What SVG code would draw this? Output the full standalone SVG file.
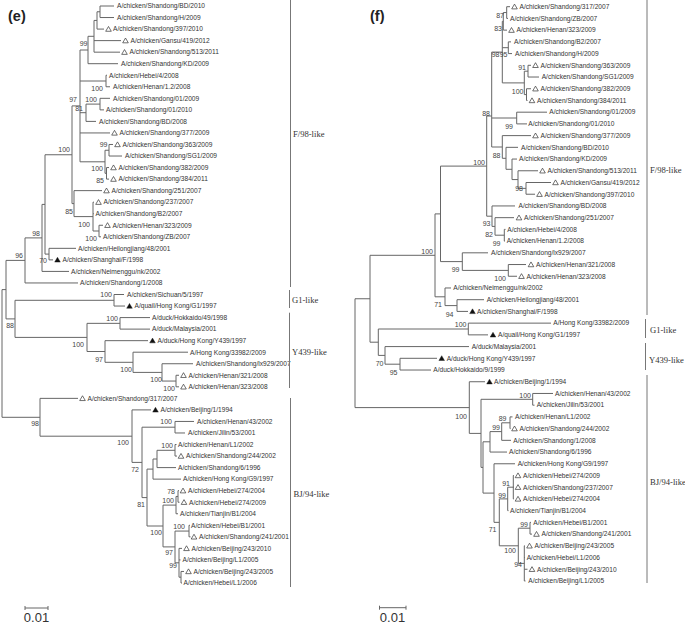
<svg xmlns="http://www.w3.org/2000/svg" width="685" height="623" viewBox="0 0 685 623">
<defs>
<style>
.br{stroke:#666;stroke-width:1;fill:none}
.bar{stroke:#777;stroke-width:1;fill:none}
.tx{font-family:"Liberation Sans",Arial,sans-serif;font-size:6.6px;fill:#333}
.bs{font-family:"Liberation Sans",Arial,sans-serif;font-size:7px;fill:#444;text-anchor:end}
.cl{font-family:"Liberation Serif","Times New Roman",serif;font-size:8.6px;fill:#333}
.pl{font-family:"Liberation Sans",Arial,sans-serif;font-size:14.5px;font-weight:bold;fill:#222}
.sc{font-family:"Liberation Sans",Arial,sans-serif;font-size:13px;fill:#333;text-anchor:middle}
</style>
<path id="ot" d="M0,-2.6 L2.8,2.2 L-2.8,2.2 Z" fill="none" stroke="#333" stroke-width="0.7"/>
<path id="ft" d="M0,-2.6 L2.8,2.2 L-2.8,2.2 Z" fill="#111" stroke="#111" stroke-width="0.4"/>
</defs>
<rect width="685" height="623" fill="#fff"/>

<!-- ================= TREE (e) ================= -->
<text id="label-e" class="pl" x="8" y="21">(e)</text>
<g id="e-connectors">
<path class="br" d="M100 6V17.54 M97 11.77V29.08 M94 20.43V52.16 M88 36.3V63.7 M106 75.24V86.78 M100 98.32V109.86 M86 104.1V121.4 M109 144.48V156.02 M106.5 167.56V179.1 M105 150.25V173.3 M80 50V161.8 M99 225.26V236.8 M93 202.18V231 M74 190.64V216.6 M72 105.9V203.6 M49 248.34V259.88 M45 154.75V254.1 M42 204.4V271.42 M25 237.9V282.96 M114 294.5V306.04 M120 317.58V329.12 M176 375.28V386.82 M162 363.74V381.05 M133 352.2V372.4 M105 340.66V362.3 M87 323.35V351.5 M15 300.3V337.4 M6 260.4V318.9 M175 421.44V432.98 M175 444.52V456.06 M157 450.3V467.6 M153 459V479.14 M178 490.68V502.22 M176 496.45V513.76 M189 525.3V536.84 M181 571.46V583 M179 548.38V577.2 M175 531.07V562.8 M163 505.1V546.9 M147 469.1V526 M142 427.2V497.6 M132 409.9V462.4 M40 398.36V436.2 M2 289.6V417.3"/>
<path class="br" d="M97 11.77H100 M94 20.43H97 M88 36.3H94 M80 50H88 M80 81H106 M86 104.1H100 M80 112.7H86 M105 150.25H109 M105 173.3H106.5 M80 161.8H105 M72 105.9H80 M93 231H99 M74 216.6H93 M72 203.6H74 M45 154.75H72 M45 254.1H49 M42 204.4H45 M25 237.9H42 M6 260.4H25 M15 300.3H114 M87 323.35H120 M162 381.05H176 M133 372.4H162 M105 362.3H133 M87 351.5H105 M15 337.4H87 M6 318.9H15 M2 289.6H6 M142 427.2H175 M157 450.3H175 M153 459H157 M147 469.1H153 M176 496.45H178 M163 505.1H176 M175 531.07H189 M179 577.2H181 M175 562.8H179 M163 546.9H175 M147 526H163 M142 497.6H147 M132 462.4H142 M40 436.2H132 M2 417.3H40"/>
<path class="br" d="M100 6H114 M100 17.54H114 M97 29.08H104 M94 40.62H121 M94 52.16H120 M88 63.7H118 M106 75.24H107 M106 86.78H110 M100 98.32H110 M100 109.86H104 M86 121.4H96 M80 132.94H110 M109 144.48H113 M109 156.02H122 M106.5 167.56H109 M106.5 179.1H109 M74 190.64H102 M93 202.18H94 M93 213.72H93.8 M99 225.26H103 M99 236.8H101 M49 248.34H76 M49 259.88H53 M42 271.42H69 M25 282.96H78 M114 294.5H124 M114 306.04H125 M120 317.58H150 M120 329.12H150 M105 340.66H148 M133 352.2H188 M162 363.74H193 M176 375.28H179 M176 386.82H179 M40 398.36H78 M132 409.9H151 M175 421.44H194 M175 432.98H185 M175 444.52H176.5 M175 456.06H177 M157 467.6H176 M153 479.14H181 M178 490.68H179 M178 502.22H179.5 M176 513.76H178 M189 525.3H190 M189 536.84H190.5 M179 548.38H182 M179 559.92H180.5 M181 571.46H184 M181 583H182"/>
</g>
<g id="e-bootstrap">
<text class="bs" x="87.5" y="45.5">99</text>
<text class="bs" x="103" y="90.5">100</text>
<text class="bs" x="97" y="101.5">100</text>
<text class="bs" x="83" y="110.5">81</text>
<text class="bs" x="77" y="101.5">97</text>
<text class="bs" x="107.5" y="146.5">99</text>
<text class="bs" x="103" y="170.5">100</text>
<text class="bs" x="104" y="182.5">85</text>
<text class="bs" x="70" y="151.5">100</text>
<text class="bs" x="73" y="213.5">85</text>
<text class="bs" x="90" y="226.5">100</text>
<text class="bs" x="97" y="240.5">100</text>
<text class="bs" x="47" y="263">70</text>
<text class="bs" x="40" y="235.5">98</text>
<text class="bs" x="23" y="257.5">96</text>
<text class="bs" x="112" y="297">100</text>
<text class="bs" x="14" y="327.5">88</text>
<text class="bs" x="118" y="320.5">100</text>
<text class="bs" x="84" y="346.5">100</text>
<text class="bs" x="103" y="361.5">97</text>
<text class="bs" x="132" y="371.5">100</text>
<text class="bs" x="162" y="381.5">100</text>
<text class="bs" x="175" y="390.5">100</text>
<text class="bs" x="39" y="425.5">98</text>
<text class="bs" x="172" y="423.5">100</text>
<text class="bs" x="129" y="444.5">100</text>
<text class="bs" x="173" y="447.5">100</text>
<text class="bs" x="139" y="471.5">72</text>
<text class="bs" x="175" y="493.5">78</text>
<text class="bs" x="174" y="502.5">100</text>
<text class="bs" x="145" y="506.5">81</text>
<text class="bs" x="185" y="528.5">100</text>
<text class="bs" x="162" y="534.5">100</text>
<text class="bs" x="173" y="554.5">97</text>
<text class="bs" x="177" y="567.5">99</text>
</g>
<g id="e-taxa">
<g id="e01"><text class="tx" x="117" y="8.3">A/chicken/Shandong/BD/2010</text></g>
<g id="e02"><text class="tx" x="117" y="19.84">A/chicken/Shandong/H/2009</text></g>
<g id="e03"><use href="#ot" x="108.5" y="29.08"/><text class="tx" x="113" y="31.38">A/chicken/Shandong/397/2010</text></g>
<g id="e04"><use href="#ot" x="125.5" y="40.62"/><text class="tx" x="130.5" y="42.92">A/chicken/Gansu/419/2012</text></g>
<g id="e05"><use href="#ot" x="124.5" y="52.16"/><text class="tx" x="129.5" y="54.46">A/chicken/Shandong/513/2011</text></g>
<g id="e06"><text class="tx" x="121" y="66">A/chicken/Shandong/KD/2009</text></g>
<g id="e07"><text class="tx" x="109" y="77.54">A/chicken/Hebei/4/2008</text></g>
<g id="e08"><text class="tx" x="113" y="89.08">A/chicken/Henan/1.2/2008</text></g>
<g id="e09"><text class="tx" x="113" y="100.62">A/chicken/Shandong/01/2009</text></g>
<g id="e10"><text class="tx" x="106" y="112.16">A/chicken/Shandong/01/2010</text></g>
<g id="e11"><text class="tx" x="99" y="123.7">A/chicken/Shandong/BD/2008</text></g>
<g id="e12"><use href="#ot" x="114.5" y="132.94"/><text class="tx" x="119.5" y="135.24">A/chicken/Shandong/377/2009</text></g>
<g id="e13"><use href="#ot" x="117.5" y="144.48"/><text class="tx" x="122.5" y="146.78">A/chicken/Shandong/363/2009</text></g>
<g id="e14"><text class="tx" x="125" y="158.32">A/chicken/Shandong/SG1/2009</text></g>
<g id="e15"><use href="#ot" x="113.5" y="167.56"/><text class="tx" x="118.5" y="169.86">A/chicken/Shandong/382/2009</text></g>
<g id="e16"><use href="#ot" x="113.5" y="179.1"/><text class="tx" x="118.5" y="181.4">A/chicken/Shandong/384/2011</text></g>
<g id="e17"><use href="#ot" x="106.5" y="190.64"/><text class="tx" x="111.5" y="192.94">A/chicken/Shandong/251/2007</text></g>
<g id="e18"><use href="#ot" x="98.5" y="202.18"/><text class="tx" x="103.5" y="204.48">A/chicken/Shandong/237/2007</text></g>
<g id="e19"><text class="tx" x="95.5" y="216.02">A/chicken/Shandong/B2/2007</text></g>
<g id="e20"><use href="#ot" x="107.5" y="225.26"/><text class="tx" x="112.5" y="227.56">A/chicken/Henan/323/2009</text></g>
<g id="e21"><text class="tx" x="103" y="239.1">A/chicken/Shandong/ZB/2007</text></g>
<g id="e22"><text class="tx" x="78" y="250.64">A/chicken/Heilongjiang/48/2001</text></g>
<g id="e23"><use href="#ft" x="57.5" y="259.88"/><text class="tx" x="62.5" y="262.18">A/chicken/Shanghai/F/1998</text></g>
<g id="e24"><text class="tx" x="71" y="273.72">A/chicken/Neimenggu/nk/2002</text></g>
<g id="e25"><text class="tx" x="80" y="285.26">A/chicken/Shandong/1/2008</text></g>
<g id="e26"><text class="tx" x="127" y="296.8">A/chicken/Sichuan/5/1997</text></g>
<g id="e27"><use href="#ft" x="129.5" y="306.04"/><text class="tx" x="134.5" y="308.34">A/quail/Hong Kong/G1/1997</text></g>
<g id="e28"><text class="tx" x="152" y="319.88">A/duck/Hokkaido/49/1998</text></g>
<g id="e29"><text class="tx" x="152" y="331.42">A/duck/Malaysia/2001</text></g>
<g id="e30"><use href="#ft" x="152.5" y="340.66"/><text class="tx" x="157.5" y="342.96">A/duck/Hong Kong/Y439/1997</text></g>
<g id="e31"><text class="tx" x="190" y="354.5">A/Hong Kong/33982/2009</text></g>
<g id="e32"><text class="tx" x="196" y="366.04">A/chicken/Shandong/lx929/2007</text></g>
<g id="e33"><use href="#ot" x="183.5" y="375.28"/><text class="tx" x="188.5" y="377.58">A/chicken/Henan/321/2008</text></g>
<g id="e34"><use href="#ot" x="183.5" y="386.82"/><text class="tx" x="188.5" y="389.12">A/chicken/Henan/323/2008</text></g>
<g id="e35"><use href="#ot" x="82.5" y="398.36"/><text class="tx" x="87.5" y="400.66">A/chicken/Shandong/317/2007</text></g>
<g id="e36"><use href="#ft" x="155.5" y="409.9"/><text class="tx" x="160.5" y="412.2">A/chicken/Beijing/1/1994</text></g>
<g id="e37"><text class="tx" x="197" y="423.74">A/chicken/Henan/43/2002</text></g>
<g id="e38"><text class="tx" x="188" y="435.28">A/chicken/Jilin/53/2001</text></g>
<g id="e39"><text class="tx" x="178" y="446.82">A/chicken/Henan/L1/2002</text></g>
<g id="e40"><use href="#ot" x="181" y="456.06"/><text class="tx" x="186" y="458.36">A/chicken/Shandong/244/2002</text></g>
<g id="e41"><text class="tx" x="178" y="469.9">A/chicken/Shandong/6/1996</text></g>
<g id="e42"><text class="tx" x="183" y="481.44">A/chicken/Hong Kong/G9/1997</text></g>
<g id="e43"><use href="#ot" x="183" y="490.68"/><text class="tx" x="188" y="492.98">A/chicken/Hebei/274/2004</text></g>
<g id="e44"><use href="#ot" x="184" y="502.22"/><text class="tx" x="189" y="504.52">A/chicken/Hebei/274/2009</text></g>
<g id="e45"><text class="tx" x="180" y="516.06">A/chicken/Tianjin/B1/2004</text></g>
<g id="e46"><text class="tx" x="191" y="527.6">A/chicken/Hebei/B1/2001</text></g>
<g id="e47"><use href="#ot" x="194" y="536.84"/><text class="tx" x="199" y="539.14">A/chicken/Shandong/241/2001</text></g>
<g id="e48"><use href="#ot" x="186.5" y="548.38"/><text class="tx" x="191.5" y="550.68">A/chicken/Beijing/243/2010</text></g>
<g id="e49"><text class="tx" x="182.5" y="562.22">A/chicken/Beijing/L1/2005</text></g>
<g id="e50"><use href="#ot" x="188.5" y="571.46"/><text class="tx" x="193.5" y="573.76">A/chicken/Beijing/243/2005</text></g>
<g id="e51"><text class="tx" x="183.5" y="585.3">A/chicken/Hebei/L1/2006</text></g>
</g>
<g id="e-clades">
<path class="bar" d="M290.5 0V287 M289.5 290V308 M289.5 312.7V388 M290.5 398V587"/>
<text class="cl" x="293" y="136.5">F/98-like</text>
<text class="cl" x="292" y="303">G1-like</text>
<text class="cl" x="292" y="355.3">Y439-like</text>
<text class="cl" x="293.5" y="497">BJ/94-like</text>
</g>
<g id="e-scale">
<path class="br" d="M25 608H48 M25 606V610 M48 606V610"/>
<text class="sc" x="36.5" y="621.5">0.01</text>
</g>

<!-- ================= TREE (f) ================= -->
<text id="label-f" class="pl" x="370" y="21">(f)</text>
<g id="f-connectors">
<path class="br" d="M506.7 6.7V18.42 M503.3 12.56V30.14 M508.3 41.86V53.58 M528 65.3V77.02 M526.5 88.74V100.46 M524.3 71.2V94.6 M502.3 21.35V82.9 M516.7 112.18V123.9 M526 182.5V194.22 M518 170.78V188.36 M512 159.06V179.57 M506 147.34V169.3 M502.3 135.62V158.3 M491.7 52.1V147 M504.3 229.38V241.1 M495 217.66V235.2 M492 205.94V226.4 M486.7 116V216.2 M508.3 264.54V276.26 M462.3 252.82V270.4 M440.5 166.1V261.6 M457 299.7V311.42 M445 287.98V305.6 M435 213.9V296.8 M468.3 323.14V334.86 M400 358.3V370.02 M385 346.58V364.2 M378.3 329V355.4 M370 255.3V342.2 M532.7 393.46V405.18 M510 416.9V428.62 M501.7 422.8V440.34 M490 431.6V452.06 M513.3 475.5V498.94 M507.7 487.2V510.66 M530 522.38V534.1 M524.3 545.82V580.98 M518.3 528.2V563.4 M499.3 498.9V545.8 M494 463.78V522.35 M483 441.8V493.1 M481 399.3V467.4 M469.3 381.74V433.4 M355 298.75V407.6"/>
<path class="br" d="M503.3 12.56H506.7 M502.3 21.35H503.3 M502.3 47.7H508.3 M524.3 71.2H528 M524.3 94.6H526.5 M502.3 82.9H524.3 M491.7 52.1H502.3 M491.7 118H516.7 M518 188.36H526 M512 179.57H518 M506 169.3H512 M502.3 158.3H506 M491.7 147H502.3 M486.7 116H491.7 M495 235.2H504.3 M492 226.4H495 M486.7 216.2H492 M440.5 166.1H486.7 M462.3 270.4H508.3 M440.5 261.6H462.3 M435 213.9H440.5 M445 305.6H457 M435 296.8H445 M370 255.3H435 M378.3 329H468.3 M385 364.2H400 M378.3 355.4H385 M370 342.2H378.3 M355 298.75H370 M481 399.3H532.7 M501.7 422.8H510 M490 431.6H501.7 M483 441.8H490 M507.7 487.2H513.3 M499.3 498.9H507.7 M518.3 528.2H530 M518.3 563.4H524.3 M499.3 545.8H518.3 M494 522.35H499.3 M483 493.1H494 M481 467.4H483 M469.3 433.4H481 M355 407.6H469.3"/>
<path class="br" d="M506.7 6.7H510 M506.7 18.42H508 M503.3 30.14H507 M508.3 41.86H511 M508.3 53.58H512 M528 65.3H531 M528 77.02H539 M526.5 88.74H531 M526.5 100.46H527.5 M516.7 112.18H547 M516.7 123.9H527 M502.3 135.62H531 M506 147.34H518 M512 159.06H517 M518 170.78H538 M526 182.5H551 M526 194.22H535 M492 205.94H515 M495 217.66H514 M504.3 229.38H505.5 M504.3 241.1H505 M462.3 252.82H488 M508.3 264.54H526 M508.3 276.26H517 M445 287.98H451 M457 299.7H484 M457 311.42H468 M468.3 323.14H551 M468.3 334.86H488 M385 346.58H469 M400 358.3H437 M400 370.02H431 M469.3 381.74H485 M532.7 393.46H553 M532.7 405.18H534.5 M510 416.9H512.5 M510 428.62H510.5 M501.7 440.34H511 M490 452.06H507 M494 463.78H515 M513.3 475.5H514 M513.3 487.22H514 M513.3 498.94H514 M507.7 510.66H508.5 M530 522.38H531 M530 534.1H532 M524.3 545.82H525 M524.3 557.54H525 M524.3 569.26H527.5 M524.3 580.98H525.5"/>
</g>
<g id="f-bootstrap">
<text class="bs" x="504" y="17.5">87</text>
<text class="bs" x="502" y="30.5">83</text>
<text class="bs" x="499.5" y="57">98</text>
<text class="bs" x="507.5" y="57">95</text>
<text class="bs" x="526" y="69.5">91</text>
<text class="bs" x="523.5" y="93.5">100</text>
<text class="bs" x="490" y="115.5">88</text>
<text class="bs" x="513" y="129">99</text>
<text class="bs" x="485" y="164.5">100</text>
<text class="bs" x="500.5" y="157.5">88</text>
<text class="bs" x="523" y="190.5">98</text>
<text class="bs" x="490.5" y="226">93</text>
<text class="bs" x="493" y="236.5">82</text>
<text class="bs" x="500.5" y="245.5">99</text>
<text class="bs" x="433" y="254">100</text>
<text class="bs" x="459.5" y="271.5">99</text>
<text class="bs" x="506" y="280.5">100</text>
<text class="bs" x="442" y="306.5">71</text>
<text class="bs" x="453.5" y="316.5">94</text>
<text class="bs" x="466.5" y="326.5">100</text>
<text class="bs" x="383.5" y="365.5">70</text>
<text class="bs" x="397.5" y="374.5">95</text>
<text class="bs" x="531" y="397.5">100</text>
<text class="bs" x="467" y="418.5">100</text>
<text class="bs" x="506.5" y="420.5">89</text>
<text class="bs" x="500" y="429.5">99</text>
<text class="bs" x="510" y="485.5">91</text>
<text class="bs" x="506" y="497.5">99</text>
<text class="bs" x="528" y="526.5">99</text>
<text class="bs" x="496.5" y="531.5">71</text>
<text class="bs" x="516" y="552.5">100</text>
<text class="bs" x="522" y="566.5">94</text>
</g>
<g id="f-taxa">
<g id="f01"><use href="#ot" x="514.5" y="6.7"/><text class="tx" x="519.5" y="9">A/chicken/Shandong/317/2007</text></g>
<g id="f02"><text class="tx" x="510" y="20.72">A/chicken/Shandong/ZB/2007</text></g>
<g id="f03"><use href="#ot" x="511.5" y="30.14"/><text class="tx" x="516.5" y="32.44">A/chicken/Henan/323/2009</text></g>
<g id="f04"><text class="tx" x="514" y="44.16">A/chicken/Shandong/B2/2007</text></g>
<g id="f05"><text class="tx" x="515" y="55.88">A/chicken/Shandong/H/2009</text></g>
<g id="f06"><use href="#ot" x="535.5" y="65.3"/><text class="tx" x="540.5" y="67.6">A/chicken/Shandong/363/2009</text></g>
<g id="f07"><text class="tx" x="541.7" y="79.32">A/chicken/Shandong/SG1/2009</text></g>
<g id="f08"><use href="#ot" x="535.5" y="88.74"/><text class="tx" x="540.5" y="91.04">A/chicken/Shandong/382/2009</text></g>
<g id="f09"><use href="#ot" x="532" y="100.46"/><text class="tx" x="537" y="102.76">A/chicken/Shandong/384/2011</text></g>
<g id="f10"><text class="tx" x="549.3" y="114.48">A/chicken/Shandong/01/2009</text></g>
<g id="f11"><text class="tx" x="528.3" y="126.2">A/chicken/Shandong/01/2010</text></g>
<g id="f12"><use href="#ot" x="535.5" y="135.62"/><text class="tx" x="540.5" y="137.92">A/chicken/Shandong/377/2009</text></g>
<g id="f13"><text class="tx" x="521" y="149.64">A/chicken/Shandong/BD/2010</text></g>
<g id="f14"><text class="tx" x="519" y="161.36">A/chicken/Shandong/KD/2009</text></g>
<g id="f15"><use href="#ot" x="542.5" y="170.78"/><text class="tx" x="547.5" y="173.08">A/chicken/Shandong/513/2011</text></g>
<g id="f16"><use href="#ot" x="555.5" y="182.5"/><text class="tx" x="560.5" y="184.8">A/chicken/Gansu/419/2012</text></g>
<g id="f17"><use href="#ot" x="539.5" y="194.22"/><text class="tx" x="544.5" y="196.52">A/chicken/Shandong/397/2010</text></g>
<g id="f18"><text class="tx" x="518.5" y="208.24">A/chicken/Shandong/BD/2008</text></g>
<g id="f19"><use href="#ot" x="519" y="217.66"/><text class="tx" x="524" y="219.96">A/chicken/Shandong/251/2007</text></g>
<g id="f20"><text class="tx" x="507.3" y="231.68">A/chicken/Hebei/4/2008</text></g>
<g id="f21"><text class="tx" x="506.7" y="243.4">A/chicken/Henan/1.2/2008</text></g>
<g id="f22"><text class="tx" x="491" y="255.12">A/chicken/Shandong/lx929/2007</text></g>
<g id="f23"><use href="#ot" x="531" y="264.54"/><text class="tx" x="536" y="266.84">A/chicken/Henan/321/2008</text></g>
<g id="f24"><use href="#ot" x="521.5" y="276.26"/><text class="tx" x="526.5" y="278.56">A/chicken/Henan/323/2008</text></g>
<g id="f25"><text class="tx" x="453.3" y="290.28">A/chicken/Neimenggu/nk/2002</text></g>
<g id="f26"><text class="tx" x="486.7" y="302">A/chicken/Heilongjiang/48/2001</text></g>
<g id="f27"><use href="#ft" x="472.5" y="311.42"/><text class="tx" x="477" y="313.72">A/chicken/Shanghai/F/1998</text></g>
<g id="f28"><text class="tx" x="553.3" y="325.44">A/Hong Kong/33982/2009</text></g>
<g id="f29"><use href="#ft" x="493" y="334.86"/><text class="tx" x="498" y="337.16">A/quail/Hong Kong/G1/1997</text></g>
<g id="f30"><text class="tx" x="471.7" y="348.88">A/duck/Malaysia/2001</text></g>
<g id="f31"><use href="#ft" x="441.7" y="358.3"/><text class="tx" x="446.7" y="360.6">A/duck/Hong Kong/Y439/1997</text></g>
<g id="f32"><text class="tx" x="433.3" y="372.32">A/duck/Hokkaido/9/1999</text></g>
<g id="f33"><use href="#ft" x="489.5" y="381.74"/><text class="tx" x="494" y="384.04">A/chicken/Beijing/1/1994</text></g>
<g id="f34"><text class="tx" x="555" y="395.76">A/chicken/Henan/43/2002</text></g>
<g id="f35"><text class="tx" x="536.7" y="407.48">A/chicken/Jilin/53/2001</text></g>
<g id="f36"><text class="tx" x="515" y="419.2">A/chicken/Henan/L1/2002</text></g>
<g id="f37"><use href="#ot" x="514.5" y="428.62"/><text class="tx" x="519.5" y="430.92">A/chicken/Shandong/244/2002</text></g>
<g id="f38"><text class="tx" x="513.3" y="442.64">A/chicken/Shandong/1/2008</text></g>
<g id="f39"><text class="tx" x="509" y="454.36">A/chicken/Shandong/6/1996</text></g>
<g id="f40"><text class="tx" x="517.7" y="466.08">A/chicken/Hong Kong/G9/1997</text></g>
<g id="f41"><use href="#ot" x="518" y="475.5"/><text class="tx" x="523" y="477.8">A/chicken/Hebei/274/2009</text></g>
<g id="f42"><use href="#ot" x="518" y="487.22"/><text class="tx" x="523" y="489.52">A/chicken/Shandong/237/2007</text></g>
<g id="f43"><use href="#ot" x="518" y="498.94"/><text class="tx" x="523" y="501.24">A/chicken/Hebei/274/2004</text></g>
<g id="f44"><text class="tx" x="510" y="512.96">A/chicken/Tianjin/B1/2004</text></g>
<g id="f45"><text class="tx" x="533.3" y="524.68">A/chicken/Hebei/B1/2001</text></g>
<g id="f46"><use href="#ot" x="536.5" y="534.1"/><text class="tx" x="541.5" y="536.4">A/chicken/Shandong/241/2001</text></g>
<g id="f47"><use href="#ot" x="529.5" y="545.82"/><text class="tx" x="534.5" y="548.12">A/chicken/Beijing/243/2005</text></g>
<g id="f48"><text class="tx" x="526.7" y="559.84">A/chicken/Hebei/L1/2006</text></g>
<g id="f49"><use href="#ot" x="532" y="569.26"/><text class="tx" x="537" y="571.56">A/chicken/Beijing/243/2010</text></g>
<g id="f50"><text class="tx" x="528.3" y="583.28">A/chicken/Beijing/L1/2005</text></g>
</g>
<g id="f-clades">
<path class="bar" d="M647 0V315 M645.5 319V338 M645.5 343V370 M647 375V583"/>
<text class="cl" x="650" y="173">F/98-like</text>
<text class="cl" x="650" y="333">G1-like</text>
<text class="cl" x="649" y="362.5">Y439-like</text>
<text class="cl" x="650" y="485">BJ/94-like</text>
</g>
<g id="f-scale">
<path class="br" d="M379.5 607.7H406 M379.5 605.7V609.7 M406 605.7V609.7"/>
<text class="sc" x="392.5" y="621.5">0.01</text>
</g>
</svg>
